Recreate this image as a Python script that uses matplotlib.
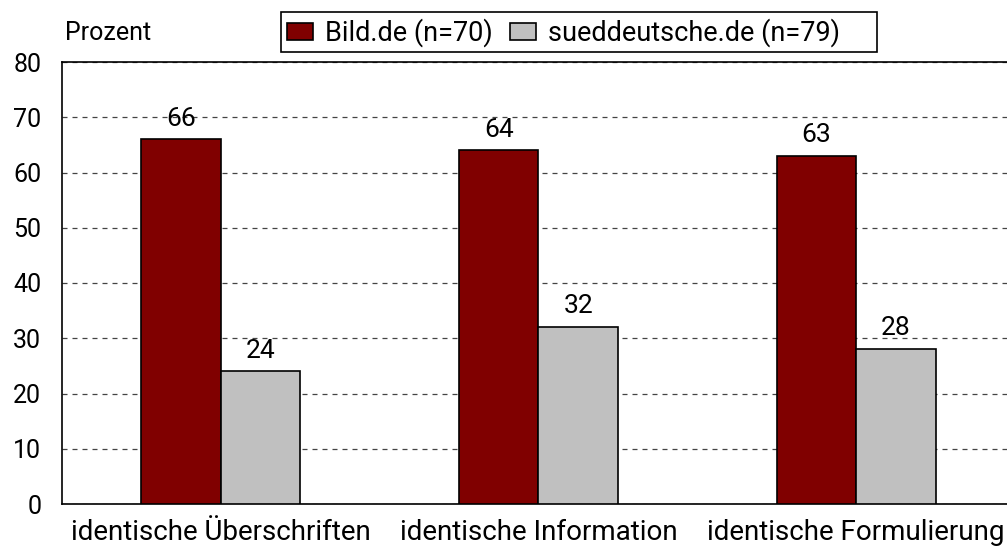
import matplotlib
matplotlib.use('Agg')
import matplotlib.pyplot as plt
from matplotlib.patches import Rectangle
import numpy as np

plt.rcParams['font.family'] = ['Roboto', 'DejaVu Sans']

categories = ['identische Überschriften', 'identische Information', 'identische Formulierung']
bild = [66, 64, 63]
sued = [24, 32, 28]
series_names = ['Bild.de (n=70)', 'sueddeutsche.de (n=79)']

fig = plt.figure(figsize=(10.07, 5.49), dpi=100)
ax = fig.add_axes([62 / 1007, 1 - 504 / 549, 945 / 1007, 442 / 549])

x = np.arange(len(categories))
w = 0.25
b1 = ax.bar(x - w / 2, bild, w, color='#800000', edgecolor='black', linewidth=1.2,
            label=series_names[0], zorder=3)
b2 = ax.bar(x + w / 2, sued, w, color='#c0c0c0', edgecolor='black', linewidth=1.2,
            label=series_names[1], zorder=3)

for bars in (b1, b2):
    for r in bars:
        ax.text(r.get_x() + r.get_width() / 2, r.get_height() + 1.6, f'{int(r.get_height())}',
                ha='center', va='bottom', fontsize=19, zorder=4)

ax.set_xlim(-0.5, 2.475)
ax.set_ylim(0, 80)
ax.set_yticks(range(0, 81, 10))
ax.set_xticks(x)
ax.set_xticklabels(categories, fontsize=20)
ax.tick_params(axis='both', length=0)
ax.tick_params(axis='y', labelsize=18, pad=15)
ax.tick_params(axis='x', pad=11)
ax.yaxis.grid(True, linestyle=(0, (4, 4)), color='#444444', linewidth=0.9, zorder=0)
ax.set_axisbelow(True)
ax.spines['right'].set_visible(False)
for s in ('left', 'top', 'bottom'):
    ax.spines[s].set_linewidth(1.2)

fig.text(65 / 1007, 1 - 33 / 549, 'Prozent', fontsize=18, va='center', ha='left')

# legend box (frame drawn separately, padding is wider on the right)
fig.patches.append(Rectangle((281 / 1007, 1 - 52 / 549), 596 / 1007, 40 / 549,
                             transform=fig.transFigure, facecolor='white',
                             edgecolor='black', linewidth=1.2))
leg = fig.legend(loc='center left', bbox_to_anchor=(287 / 1007, 1 - 33 / 549), ncol=2,
                 fontsize=19.5, frameon=False, borderaxespad=0, borderpad=0,
                 handlelength=0.95, handleheight=0.55, handletextpad=0.45,
                 columnspacing=0.65)

fig.savefig('out.png', dpi=100)
